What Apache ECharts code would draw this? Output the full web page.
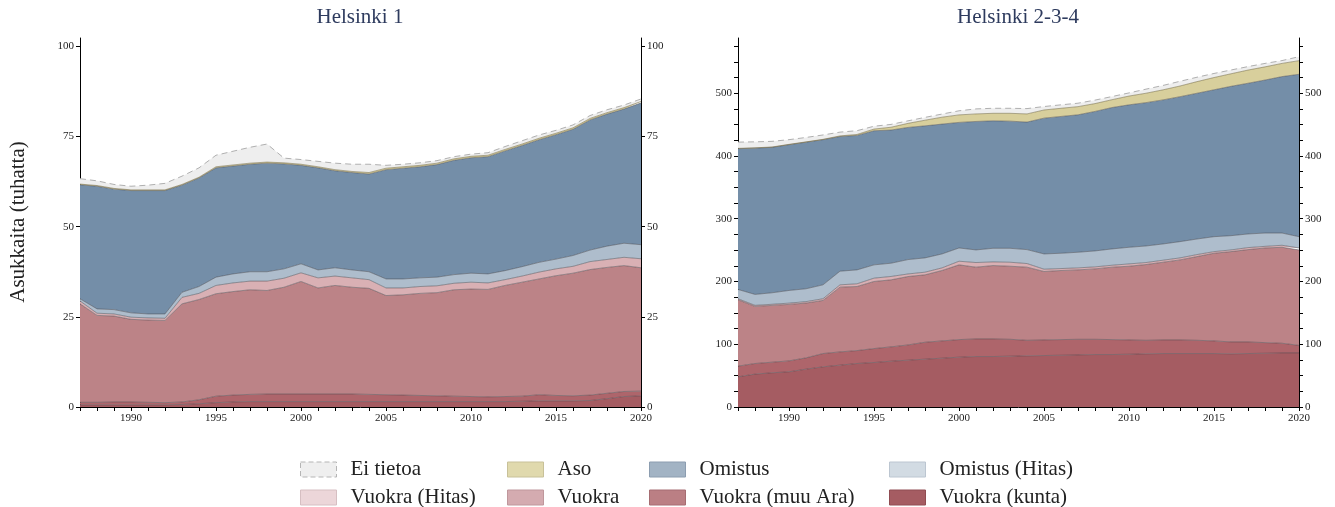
<!DOCTYPE html>
<html>
<head>
<meta charset="utf-8">
<script src="https://cdn.jsdelivr.net/npm/echarts@6/dist/echarts.min.js"></script>
<style>
html,body{margin:0;padding:0;background:#fff;}
#chart{width:1335px;height:507px;}
</style>
</head>
<body>
<div id="chart"></div>
<script>
// ---- data ----
const years = [];
for (let y = 1987; y <= 2020; y++) years.push(String(y));

const seriesNames = ['Vuokra (kunta)', 'Vuokra (muu Ara)', 'Vuokra', 'Vuokra (Hitas)', 'Omistus (Hitas)', 'Omistus', 'Aso', 'Ei tietoa'];

// Helsinki 1 (thousand residents), stacked bottom -> top
const h1Kunta   = [0.6,0.6,0.6,0.6,0.6,0.6,0.7,0.9,1.2,1.4,1.5,1.5,1.5,1.5,1.5,1.5,1.5,1.5,1.5,1.5,1.5,1.5,1.5,1.5,1.5,1.5,1.6,1.7,1.7,1.7,1.8,2.3,2.9,3.1];
const h1MuuAra  = [0.7,0.7,0.8,0.8,0.7,0.6,0.7,1.1,1.8,1.9,2.0,2.1,2.1,2.1,2.1,2.1,2.1,2.0,1.9,1.8,1.7,1.6,1.5,1.4,1.3,1.4,1.4,1.7,1.5,1.4,1.5,1.5,1.4,1.3];
const h1Vuokra  = [27.3,24.1,23.8,22.9,22.8,22.8,27.2,27.8,28.4,28.7,29.0,28.7,29.6,31.2,29.4,30.1,29.6,29.4,27.5,27.8,28.3,28.6,29.5,29.8,29.8,30.8,31.6,32.1,33.2,34.0,34.8,34.9,34.9,34.2];
const h1VHitas  = [0.8,0.6,0.6,0.6,0.6,0.6,1.8,1.7,2.3,2.4,2.4,2.6,2.5,2.4,2.8,2.6,2.6,2.4,2.1,1.9,1.9,1.9,1.8,1.9,1.8,1.6,1.7,1.9,1.9,1.9,2.2,2.2,2.3,2.5];
const h1OHitas  = [0.6,1.2,1.2,1.2,1.1,1.2,1.4,1.9,2.3,2.5,2.6,2.6,2.6,2.5,2.2,2.3,2.2,2.2,2.5,2.5,2.4,2.4,2.4,2.5,2.5,2.5,2.6,2.7,2.7,3.0,3.2,3.7,3.9,3.9];
const h1Omistus = [31.6,34.0,33.4,33.9,34.2,34.2,29.7,30.1,30.3,29.9,29.8,30.1,29.1,27.3,28.3,26.9,27.0,27.1,30.3,30.7,30.8,31.2,31.7,32.0,32.5,33.2,33.6,34.0,34.5,35.0,36.1,36.6,37.2,39.3];
const h1Aso     = [0.2,0.2,0.2,0.2,0.2,0.2,0.2,0.2,0.3,0.3,0.3,0.3,0.3,0.3,0.3,0.3,0.3,0.4,0.4,0.4,0.4,0.4,0.4,0.4,0.4,0.4,0.4,0.4,0.4,0.4,0.4,0.4,0.4,0.4];
const h1Ei      = [1.5,1.3,1.1,1.0,1.3,1.8,2.3,2.6,3.2,3.8,4.4,5.0,1.3,1.3,1.5,1.8,2.0,2.3,0.8,0.7,0.7,0.7,0.6,0.6,0.7,0.8,0.9,0.9,0.8,0.8,0.8,0.8,0.7,0.7];

// Helsinki 2-3-4
const h2Kunta   = [48.1,52.4,54.5,56.1,60.3,64.0,66.7,69.3,70.9,73.0,74.6,76.2,77.8,79.4,80.4,80.4,81.0,81.5,82.0,82.5,83.0,83.6,83.6,84.1,84.7,85.2,85.2,85.2,85.2,84.7,85.2,85.7,86.2,86.2];
const h2MuuAra  = [17.0,16.9,16.9,17.4,18.0,21.2,21.1,20.6,22.2,22.8,24.3,27.0,27.5,28.0,28.1,28.1,26.9,24.8,24.9,24.9,24.9,24.3,23.8,22.8,21.6,21.7,21.7,21.1,20.1,19.0,18.5,16.9,15.4,12.0];
const h2Vuokra  = [105.8,91.0,90.5,90.0,87.3,84.6,103.2,102.1,106.9,106.8,109.0,107.4,112.2,119.1,114.3,116.9,116.4,116.5,109.0,110.1,110.6,112.2,115.4,117.4,120.7,123.8,127.5,133.4,139.7,143.9,147.1,150.8,152.9,152.1];
const h2VHitas  = [1.6,1.7,1.8,2.0,2.3,2.7,3.7,4.3,5.3,5.4,4.1,4.2,4.2,5.8,7.4,5.8,6.4,5.8,3.7,3.1,3.2,3.2,3.1,3.7,3.2,3.2,3.2,3.2,2.6,2.7,3.2,2.6,3.2,3.1];
const h2OHitas  = [14.8,17.4,18.3,20.2,20.5,22.2,21.7,22.2,21.2,21.1,22.9,22.8,22.2,21.1,20.1,21.7,22.2,22.2,24.3,24.4,24.9,25.4,26.0,26.5,26.4,25.9,25.9,24.8,23.8,22.7,21.7,21.2,19.5,18.0];
const h2Omistus = [224.3,233.1,231.8,232.3,233.6,231.3,214.6,214.3,213.7,212.2,210.6,210.4,206.9,200.1,204.7,203.1,202.6,203.2,216.4,218.0,219.0,222.3,225.3,227.0,228.4,229.6,231.0,232.3,234.1,238.0,240.2,243.8,249.3,258.8];
const h2Aso     = [0.5,0.5,0.5,0.5,0.5,0.5,1.0,1.5,2.7,4.5,6.5,9.0,11.0,12.0,12.0,12.0,12.5,13.0,13.0,13.0,13.0,12.5,12.5,14.0,15.0,16.0,17.0,18.5,19.5,20.0,21.0,21.0,21.0,21.7];
const h2Ei      = [10,9.5,9,7.5,7,7,6,6,4.5,4.5,4,4.5,5,6.5,8,8,8,8.5,5.5,5.5,5.5,5.5,5,5,6.5,7,7.5,7,6.5,6,5.5,5.5,4.5,6.3];

const h1Ticks = [0,25,50,75,100];
const h1Labels = [0,25,50,75,100];
const h2Ticks = [];
for (let v = 0; v <= 575; v += 25) h2Ticks.push(v);
const h2Labels = [0,100,200,300,400,500];

// ---- styles ----
const FONT = 'Liberation Serif';
const areaColors = {
  'Vuokra (kunta)': '#a55c62',
  'Vuokra (muu Ara)': '#ae656b',
  'Vuokra': '#bc8387',
  'Vuokra (Hitas)': '#d9b0b4',
  'Omistus (Hitas)': '#aebdcc',
  'Omistus': '#748ea8',
  'Aso': '#d8cf9c',
  'Ei tietoa': '#eeeeee'
};
const legendColors = {
  'Ei tietoa': ['#efefef', '#b5b5b5'],
  'Aso': ['#e0d9ad', '#c8c199'],
  'Omistus': ['#a2b3c4', '#8c9db0'],
  'Omistus (Hitas)': ['#d2dbe3', '#bcc6d1'],
  'Vuokra (Hitas)': ['#ecd6d9', '#d6bfc2'],
  'Vuokra': ['#d4abb0', '#bf979c'],
  'Vuokra (muu Ara)': ['#bb7f84', '#a66d72'],
  'Vuokra (kunta)': ['#a55c62', '#904c52']
};

const h1Data = [h1Kunta, h1MuuAra, h1Vuokra, h1VHitas, h1OHitas, h1Omistus, h1Aso, h1Ei];
const h2Data = [h2Kunta, h2MuuAra, h2Vuokra, h2VHitas, h2OHitas, h2Omistus, h2Aso, h2Ei];

function makeSeries(dataSets, gridIdx, stackName) {
  return seriesNames.map((name, i) => {
    const isEi = name === 'Ei tietoa';
    return {
      name: name,
      type: 'line',
      stack: stackName,
      xAxisIndex: gridIdx,
      yAxisIndex: gridIdx * 2,
      data: dataSets[i],
      symbol: 'none',
      smooth: false,
      itemStyle: { color: legendColors[name][0] },
      lineStyle: isEi
        ? { color: '#b0b0b0', width: 1, type: [6, 4] }
        : { color: name === 'Aso' ? 'rgba(110,100,60,0.6)' : 'rgba(70,70,75,0.55)', width: 0.9 },
      areaStyle: { color: areaColors[name], opacity: 1 },
      emphasis: { disabled: true },
      z: 2
    };
  });
}

function xAxis(gridIdx) {
  return {
    type: 'category',
    gridIndex: gridIdx,
    data: years,
    boundaryGap: false,
    axisLine: { show: true, onZero: false, lineStyle: { color: '#000', width: 1 } },
    axisTick: { show: true, interval: 0, length: 4, lineStyle: { color: '#000' } },
    axisLabel: {
      interval: (idx, val) => Number(val) % 5 === 0,
      fontFamily: FONT, fontSize: 11, color: '#222', margin: 6
    },
    splitLine: { show: false }
  };
}

function yAxis(gridIdx, pos, max, ticks, labels) {
  return {
    type: 'value',
    gridIndex: gridIdx,
    position: pos,
    min: 0,
    max: max,
    axisLine: { show: true, lineStyle: { color: '#000', width: 1 } },
    axisTick: { show: true, length: 4, customValues: ticks, lineStyle: { color: '#000' } },
    axisLabel: { customValues: labels, fontFamily: FONT, fontSize: 11, color: '#222', margin: 6 },
    splitLine: { show: false }
  };
}

function legendCol(left, names) {
  return {
    orient: 'vertical',
    left: left,
    top: 459,
    height: 80,
    width: 260,
    padding: 0,
    itemWidth: 36,
    itemHeight: 15,
    itemGap: 7,
    icon: 'rect',
    selectedMode: false,
    textStyle: { fontFamily: FONT, fontSize: 21, lineHeight: 20, color: '#222', padding: [0, 0, 0, 9] },
    data: names.map(n => ({
      name: n,
      icon: 'rect',
      itemStyle: {
        color: legendColors[n][0],
        borderColor: legendColors[n][1],
        borderWidth: 1,
        borderType: n === 'Ei tietoa' ? [5, 3] : 'solid'
      }
    }))
  };
}

const option = {
  animation: false,
  backgroundColor: '#fff',
  title: [
    { text: 'Helsinki 1', left: 360, top: 7, textAlign: 'center', padding: 0,
      textStyle: { fontFamily: FONT, fontSize: 21, fontWeight: 'normal', color: '#2e3b5e' } },
    { text: 'Helsinki 2-3-4', left: 1018, top: 7, textAlign: 'center', padding: 0,
      textStyle: { fontFamily: FONT, fontSize: 21, fontWeight: 'normal', color: '#2e3b5e' } }
  ],
  grid: [
    { left: 80, right: 694, top: 38, bottom: 100 },
    { left: 738, right: 36, top: 38, bottom: 100 }
  ],
  xAxis: [xAxis(0), xAxis(1)],
  yAxis: [
    yAxis(0, 'left', 102.3, h1Ticks, h1Labels),
    yAxis(0, 'right', 102.3, h1Ticks, h1Labels),
    yAxis(1, 'left', 588, h2Ticks, h2Labels),
    yAxis(1, 'right', 588, h2Ticks, h2Labels)
  ],
  legend: [
    legendCol(300, ['Ei tietoa', 'Vuokra (Hitas)']),
    legendCol(507, ['Aso', 'Vuokra']),
    legendCol(649, ['Omistus', 'Vuokra (muu Ara)']),
    legendCol(889, ['Omistus (Hitas)', 'Vuokra (kunta)'])
  ],
  graphic: [
    {
      type: 'text',
      x: 18, y: 222,
      rotation: Math.PI / 2,
      style: {
        text: 'Asukkaita (tuhatta)',
        fontFamily: FONT, fontSize: 21, fill: '#222',
        align: 'center', verticalAlign: 'middle'
      }
    }
  ],
  series: makeSeries(h1Data, 0, 'h1').concat(makeSeries(h2Data, 1, 'h2'))
};

const chart = echarts.init(document.getElementById('chart'), null, { renderer: 'canvas' });
chart.setOption(option);
</script>
</body>
</html>
